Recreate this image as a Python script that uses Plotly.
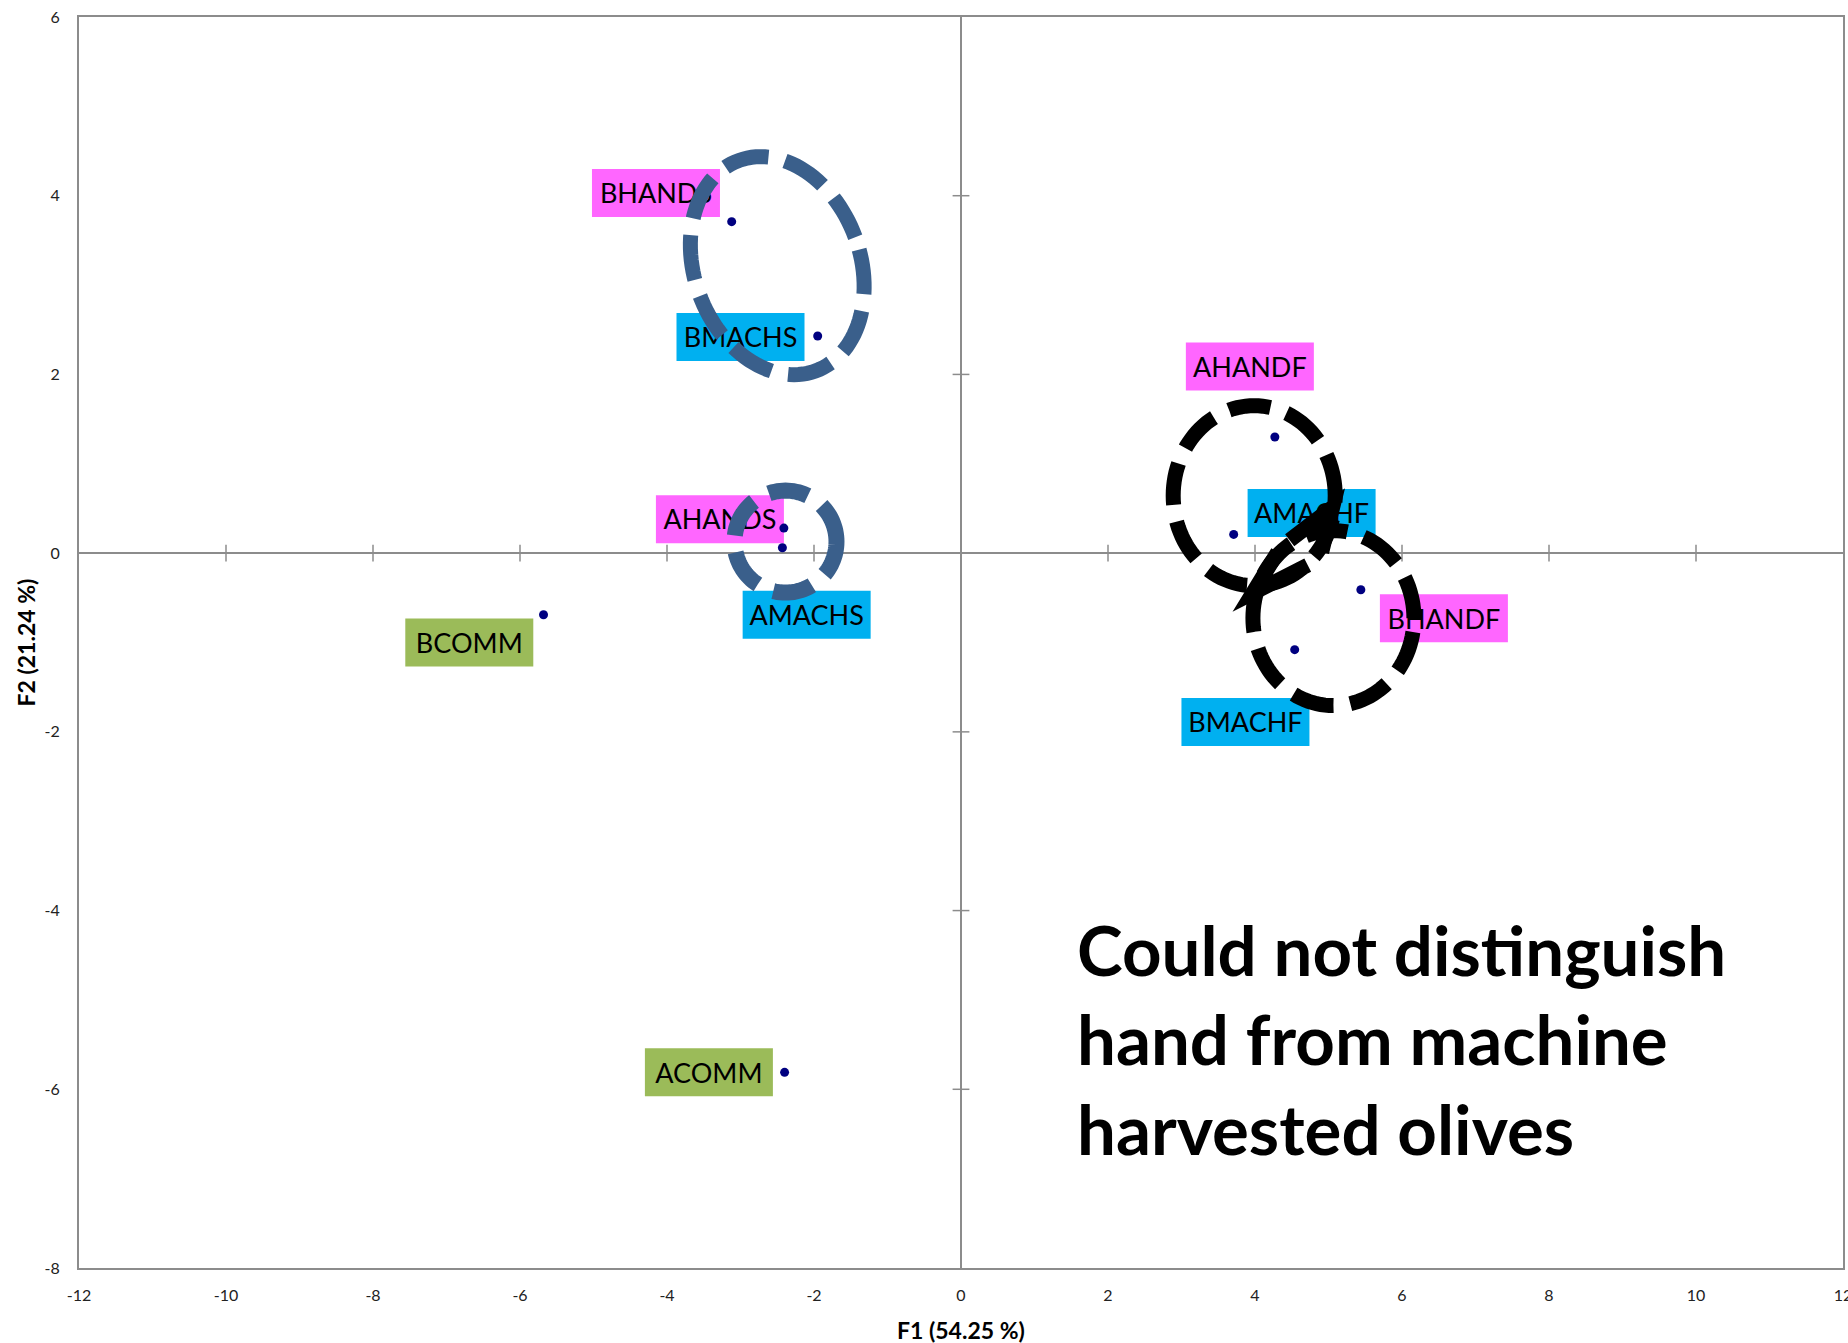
import numpy as np
import plotly.graph_objects as go

# ---------------- data ----------------
names = ["BHANDS", "BMACHS", "AHANDS", "AMACHS", "BCOMM", "ACOMM",
         "AHANDF", "AMACHF", "BHANDF", "BMACHF"]
f1 = [-3.12, -1.95, -2.41, -2.43, -5.68, -2.40, 4.27, 3.71, 5.44, 4.54]
f2 = [3.71, 2.43, 0.28, 0.06, -0.69, -5.81, 1.30, 0.21, -0.41, -1.08]
label_x = [-4.15, -3.00, -3.28, -2.10, -6.69, -3.43, 3.93, 4.77, 6.57, 3.87]
label_y = [4.03, 2.42, 0.38, -0.69, -1.00, -5.81, 2.09, 0.45, -0.73, -1.89]
groups = ["hand", "machine", "hand", "machine", "comm", "comm",
          "hand", "machine", "hand", "machine"]
x_ticks = list(range(-12, 13, 2))
y_ticks = list(range(-8, 7, 2))
x_title = "F1 (54.25 %)"
y_title = "F2 (21.24 %)"
note_lines = ["Could not distinguish", "hand from machine", "harvested olives"]

# ---------------- styles ----------------
group_colors = {"hand": "#FF66FF", "machine": "#00B0F0", "comm": "#9BBB59"}
W, H = 1848, 1343
ML, MR, MT, MB = 79, 5, 17, 75
XR, YR = [-12, 12], [-8, 6]
PXX = (W - ML - MR) / (XR[1] - XR[0])
PXY = (H - MT - MB) / (YR[1] - YR[0])
AXIS_GRAY = "#8c8c8c"
FONT = "Lato, Open Sans, sans-serif"
TEXT_NUDGE_PX = 3.5  # vertical optical centring of label text in its box

def off(cx, cy, dx, dy):
    """center in data units, offset in screen px (y down) -> data point"""
    return cx + dx / PXX, cy - dy / PXY

def ellipse_path(cx, cy, a, b, rot_deg, n=120):
    phi = np.radians(rot_deg)
    t = np.linspace(0, 2 * np.pi, n, endpoint=False)
    ex = b * np.cos(t)
    ey = a * np.sin(t)
    rx = ex * np.cos(phi) - ey * np.sin(phi)
    ry = ex * np.sin(phi) + ey * np.cos(phi)
    pts = [(cx + rx[i] / PXX, cy + ry[i] / PXY) for i in range(n)]
    return "M " + " L ".join(f"{x:.4f},{y:.4f}" for x, y in pts) + " Z"

def poly_path(cx, cy, offsets):
    pts = [off(cx, cy, dx, dy) for dx, dy in offsets]
    return "M " + " L ".join(f"{x:.4f},{y:.4f}" for x, y in pts)

fig = go.Figure()

# cross tick marks on the zero axes
xt_in = [v for v in x_ticks if v not in (0, XR[0], XR[1])]
yt_in = [v for v in y_ticks if v not in (0, YR[0], YR[1])]
fig.add_trace(go.Scatter(x=xt_in, y=[0] * len(xt_in), mode="markers",
                         marker=dict(symbol="line-ns", size=12,
                                     line=dict(width=1.5, color=AXIS_GRAY)),
                         hoverinfo="skip"))
fig.add_trace(go.Scatter(x=[0] * len(yt_in), y=yt_in, mode="markers",
                         marker=dict(symbol="line-ew", size=12,
                                     line=dict(width=1.5, color=AXIS_GRAY)),
                         hoverinfo="skip"))

# label boxes
shapes = []
for lx, ly, g in zip(label_x, label_y, groups):
    shapes.append(dict(type="rect", xref="x", yref="y", layer="between",
                       xsizemode="pixel", xanchor=lx, x0=-64, x1=64,
                       ysizemode="pixel", yanchor=ly, y0=-24, y1=24,
                       fillcolor=group_colors[g], line=dict(width=0)))

# label texts
fig.add_trace(go.Scatter(x=label_x, y=[v - TEXT_NUDGE_PX / PXY for v in label_y],
                         text=names, mode="text",
                         textposition="middle center",
                         textfont=dict(family=FONT, size=27, color="black"),
                         hoverinfo="skip", cliponaxis=False))

# points
fig.add_trace(go.Scatter(x=f1, y=f2, mode="markers",
                         marker=dict(size=9, color="#000080"),
                         hoverinfo="text", text=names))

# encircling ellipses
BLUE = "#3A5F8B"
shapes.append(dict(type="path", xref="x", yref="y", layer="above",
                   path=ellipse_path(-2.50, 3.217, 112, 83, 20),
                   line=dict(color=BLUE, width=15, dash="45px,17px")))
shapes.append(dict(type="path", xref="x", yref="y", layer="above",
                   path=ellipse_path(-2.388, 0.129, 51, 51, 0),
                   line=dict(color=BLUE, width=16, dash="40px,17px")))
U = (3.989, 0.643)
L = (5.067, -0.727)
shapes.append(dict(type="path", xref="x", yref="y", layer="above",
                   path=ellipse_path(U[0], U[1], 90, 81, 0),
                   line=dict(color="black", width=15, dash="42px,17px")))
shapes.append(dict(type="path", xref="x", yref="y", layer="above",
                   path=ellipse_path(L[0], L[1], 87.5, 80.5, 0),
                   line=dict(color="black", width=15, dash="42px,17px")))
# hand-drawn arrowheads
shapes.append(dict(type="path", xref="x", yref="y", layer="above",
                   path=poly_path(U[0], U[1], [(35.5, 44.5), (78.5, 11.5), (67.5, 56.5)]),
                   line=dict(color="black", width=15)))
shapes.append(dict(type="path", xref="x", yref="y", layer="above",
                   path=poly_path(L[0], L[1], [(-55.7, -66), (-80.7, -25), (-25.7, -53)]),
                   line=dict(color="black", width=15)))

annotations = [
    dict(text=f"<b>{x_title}</b>", xref="paper", yref="paper", x=0.5, y=0,
         xanchor="center", yanchor="middle", yshift=-62, showarrow=False,
         font=dict(family=FONT, size=23, color="black")),
    dict(text=f"<b>{y_title}</b>", xref="paper", yref="paper", x=0, y=0.5,
         xanchor="center", yanchor="middle", xshift=-54, textangle=-90,
         showarrow=False, font=dict(family=FONT, size=23, color="black")),
]
line_y = [949, 1038, 1128]
for txt, py in zip(note_lines, line_y):
    annotations.append(dict(text=f"<b>{txt}</b>", xref="x", yref="y",
                            x=(1075 - ML) / PXX + XR[0],
                            y=YR[1] - (py - MT) / PXY,
                            xanchor="left", yanchor="middle", showarrow=False,
                            font=dict(family=FONT, size=69, color="black")))

axis_common = dict(showgrid=False, zeroline=True, zerolinecolor=AXIS_GRAY,
                   zerolinewidth=2, showline=True, mirror=True,
                   linecolor=AXIS_GRAY, linewidth=2, ticks="",
                   automargin=False, ticklabeloverflow="allow",
                   tickfont=dict(family=FONT, size=16, color="#222"))
fig.update_layout(
    width=W, height=H, margin=dict(l=ML, r=MR, t=MT, b=MB, autoexpand=False),
    paper_bgcolor="white", plot_bgcolor="white", showlegend=False,
    xaxis=dict(range=XR, tickvals=x_ticks, ticktext=[str(v) for v in x_ticks],
               ticklabelstandoff=12, **axis_common),
    yaxis=dict(range=YR, tickvals=y_ticks, ticktext=[str(v) for v in y_ticks],
               ticklabelstandoff=14, **axis_common),
    shapes=shapes, annotations=annotations,
)
fig.write_html("out.html",
               config={"displayModeBar": False},
               post_script="document.body.style.margin='0';"
                           "document.documentElement.style.overflow='hidden';"
                           "document.body.style.overflow='hidden';")
